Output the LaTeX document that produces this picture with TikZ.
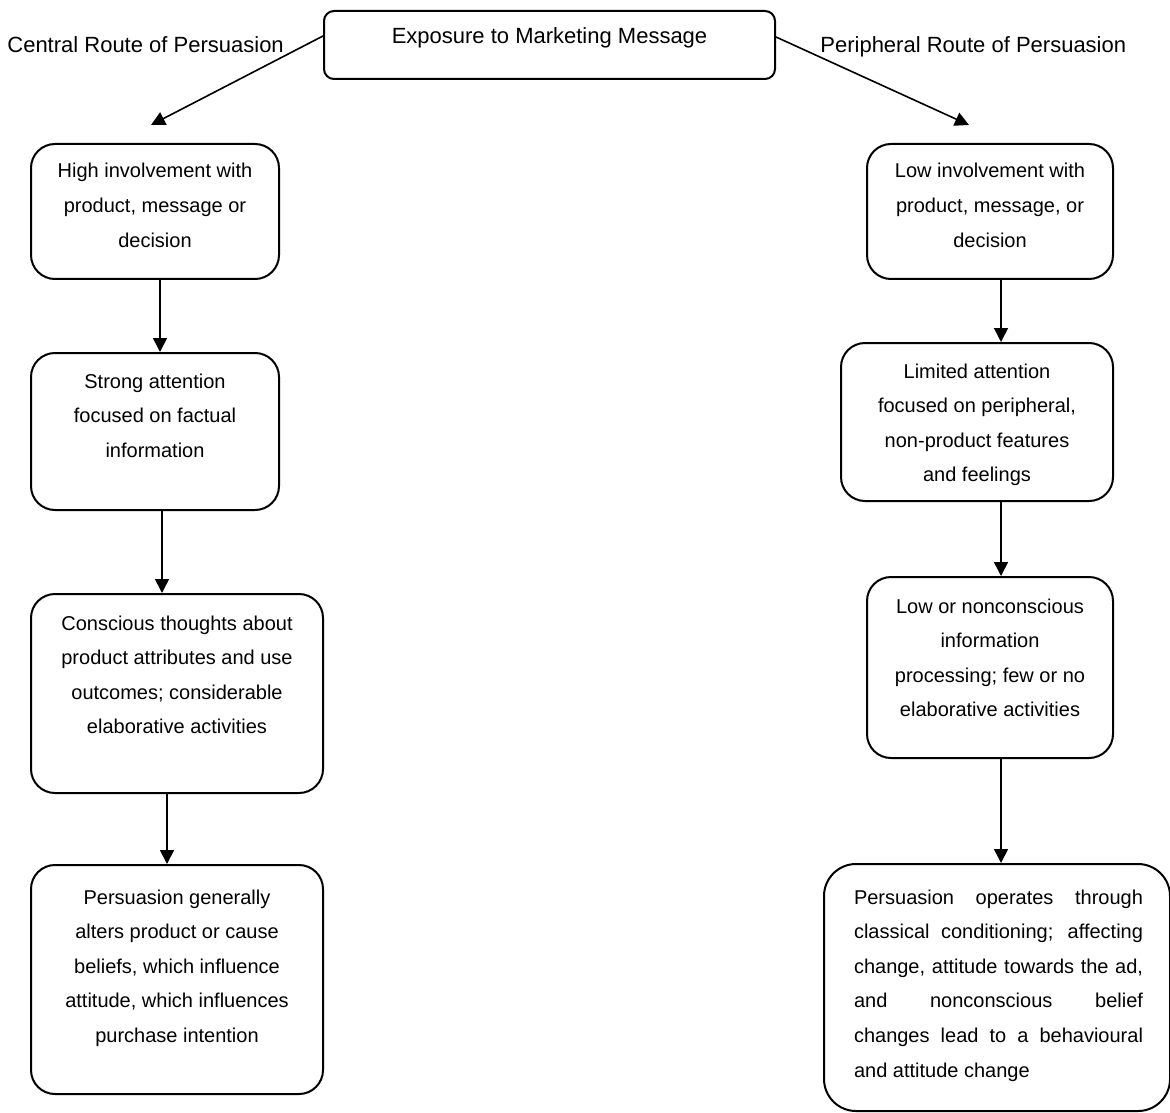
\documentclass[tikz,border=0pt]{standalone}
\usepackage{fontspec}
\setmainfont{Liberation Sans}
\usetikzlibrary{arrows.meta,positioning}
% box text: width, height, first baseline, lines
\newcommand{\boxlines}[4]{\parbox[t][#2][t]{#1}{\centering\rule{0pt}{#3}#4}}
\newcommand{\jline}[1]{\makebox[\linewidth][s]{#1}}

\begin{document}
\begin{tikzpicture}[x=0.5pt,y=-0.5pt,
  stage/.style={draw,line width=1pt,rounded corners=12pt,inner sep=0pt,anchor=north west,
    font=\fontsize{10pt}{17.3pt}\selectfont},
  flow/.style={line width=0.8pt,-{Triangle[length=7pt,width=7pt]}},
  route/.style={anchor=base west,inner sep=0pt,font=\fontsize{11pt}{13pt}\selectfont}]
  \useasboundingbox (0,0) rectangle (1170,1112);
  % top message
  \node[stage,rounded corners=5pt,font=\fontsize{11pt}{13pt}\selectfont] (expo) at (323,10)
    {\boxlines{225.5pt}{34pt}{16.5pt}{Exposure to Marketing Message}};
  \node[route] (central) at (7,53) {Central Route of Persuasion};
  \node[route] (periph) at (820,53) {Peripheral Route of Persuasion};
  \coordinate (ctip) at (151,125);
  \coordinate (ptip) at (969,125);
  \draw[flow] ([yshift=4.5pt]expo.west) -- (ctip);
  \draw[flow] ([yshift=4pt]expo.east) -- (ptip);
  % central route
  \node[stage] (hi) at (30,143)
    {\boxlines{124pt}{67.5pt}{17pt}{High involvement with\\ product, message or\\ decision}};
  \node[stage] (strong) at (30,352)
    {\boxlines{124pt}{78.5pt}{17.5pt}{Strong attention\\ focused on factual\\ information}};
  \node[stage] (consc) at (30,593)
    {\boxlines{146pt}{99.5pt}{18pt}{Conscious thoughts about\\ product attributes and use\\ outcomes; considerable\\ elaborative activities}};
  \node[stage] (alter) at (30,864)
    {\boxlines{146pt}{114.5pt}{19.5pt}{Persuasion generally\\ alters product or cause\\ beliefs, which influence\\ attitude, which influences\\ purchase intention}};
  % peripheral route
  \node[stage] (lo) at (866,143)
    {\boxlines{123pt}{67.5pt}{17pt}{Low involvement with\\ product, message, or\\ decision}};
  \node[stage] (limited) at (840,342)
    {\boxlines{136pt}{79pt}{17.5pt}{Limited attention\\ focused on peripheral,\\ non-product features\\ and feelings}};
  \node[stage] (noncon) at (866,576)
    {\boxlines{123pt}{90.5pt}{18pt}{Low or nonconscious\\ information\\ processing; few or no\\ elaborative activities}};
  \node[stage,rounded corners=16pt] (classic) at (823,863)
    {\parbox[t][123.5pt][t]{173pt}{\rule{0pt}{20pt}\hspace*{15pt}\parbox[t]{144.5pt}{%
      \jline{Persuasion operates through}\\
      \jline{classical conditioning; affecting}\\
      \jline{change, attitude towards the ad,}\\
      \jline{and nonconscious belief}\\
      \jline{changes lead to a behavioural}\\
      and attitude change}}};
  % arrows down the columns
  \draw[flow] ([xshift=2.5pt]hi.south) coordinate (c1) -- (c1 |- strong.north);
  \draw[flow] ([xshift=3.5pt]strong.south) coordinate (c2) -- (c2 |- consc.north);
  \draw[flow] ([xshift=-5pt]consc.south) coordinate (c3) -- (c3 |- alter.north);
  \draw[flow] ([xshift=5.5pt]lo.south) coordinate (p1) -- (p1 |- limited.north);
  \draw[flow] ([xshift=12pt]limited.south) coordinate (p2) -- (p2 |- noncon.north);
  \draw[flow] ([xshift=5.5pt]noncon.south) coordinate (p3) -- (p3 |- classic.north);
\end{tikzpicture}
\end{document}
